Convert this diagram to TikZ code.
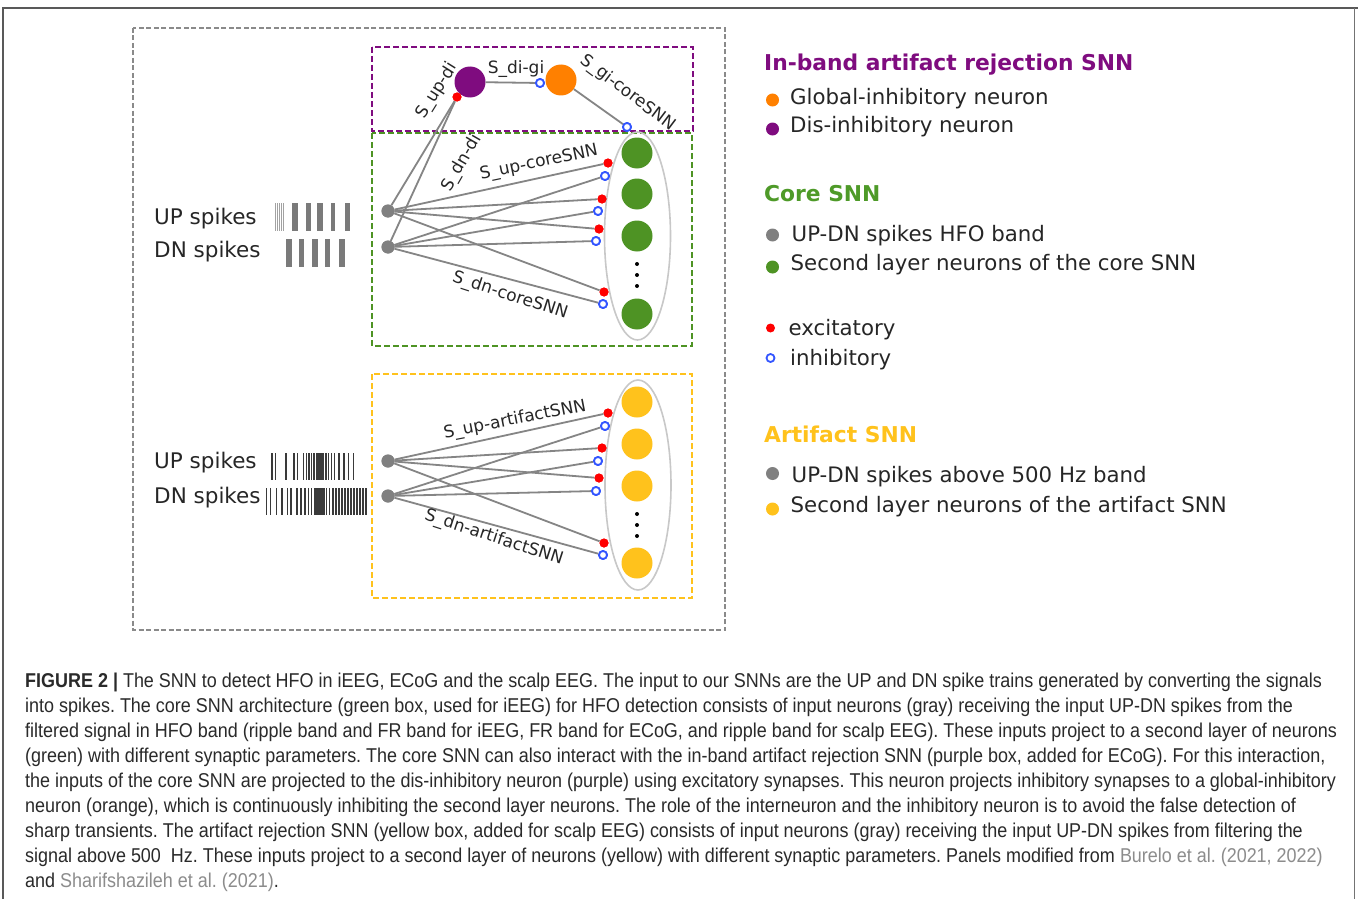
\documentclass[tikz,border=0pt]{standalone}
\usepackage{fontspec}
\setmainfont{DejaVu Sans}
\newfontfamily\capfont[FakeStretch=0.898]{Liberation Sans}
\frenchspacing
\definecolor{purp}{HTML}{7F0C7F}
\definecolor{orng}{HTML}{FF8000}
\definecolor{grn}{HTML}{4E9324}
\definecolor{grntxt}{HTML}{4E9A28}
\definecolor{yel}{HTML}{FFC21C}
\definecolor{neugray}{HTML}{808080}
\definecolor{wire}{HTML}{858585}
\definecolor{inhblue}{HTML}{3355FF}
\definecolor{boxgray}{HTML}{8A8A8A}
\definecolor{ellgray}{HTML}{C8C8C8}
\definecolor{captxt}{HTML}{2A2A2A}
\definecolor{citegray}{HTML}{8C8C8C}
\definecolor{spk}{HTML}{7A7A7A}
\definecolor{spkdark}{HTML}{3A3A3A}
\tikzset{
  neuron/.style={circle, inner sep=0pt, minimum size=31pt},
  inputn/.style={circle, fill=neugray, inner sep=0pt, minimum size=13pt},
  exc/.style={circle, fill=red, inner sep=0pt, minimum size=9pt},
  inh/.style={circle, draw=inhblue, fill=white, line width=1.8pt, inner sep=0pt, minimum size=8pt},
  wirel/.style={draw=wire, line width=1.8pt},
  lbl/.style={font=\fontsize{17}{17}\selectfont, inner sep=0pt, text=black!85},
  dbox/.style={line width=1.8pt, dash pattern=on 6pt off 3pt},
  lgtext/.style={font=\fontsize{21.3}{21.3}\selectfont, anchor=base west, inner sep=0pt, text=black!85},
  lgtitle/.style={font=\fontsize{21.8}{21.8}\selectfont\bfseries, anchor=base west, inner sep=0pt},
  lgdot/.style={circle, inner sep=0pt, minimum size=13pt},
  captext/.style={font=\capfont\fontsize{20}{20}\selectfont, anchor=base west, inner sep=0pt, text=captxt},
  spklabel/.style={font=\fontsize{21.5}{21.5}\selectfont, anchor=base west, inner sep=0pt, text=black!85},
  vdot/.style={circle, fill=black, inner sep=0pt, minimum size=4pt}
}
\begin{document}
\begin{tikzpicture}[x=1pt,y=-1pt]
\useasboundingbox (0,0) rectangle (1358,899);
\fill[white] (0,0) rectangle (1358,899);

% page frame
\draw[black!65, line width=1.2pt] (3,899) -- (3,8) -- (1358,8);
\draw[black!55, line width=1pt] (1354,8) -- (1354,899);

% dashed group boxes
\draw[dbox, boxgray, dash pattern=on 5pt off 2.5pt] (133,28) rectangle (725,630);
\draw[dbox, grn] (372,133) rectangle (692,346);
\draw[dbox, purp] (372,47) rectangle (693,131);
\draw[dbox, yel] (372,374) rectangle (692,598);

% ---------------- core SNN ----------------
\draw[ellgray, line width=1.6pt] (637.5,236) ellipse [x radius=33, y radius=104];
\node[neuron, fill=grn] (g1) at (637,153) {};
\node[neuron, fill=grn] (g2) at (637,194) {};
\node[neuron, fill=grn] (g3) at (637,236) {};
\node[neuron, fill=grn] (g4) at (637,314) {};
\node[vdot] (gd1) at (637,264) {};
\node[vdot] (gd2) at (637,275) {};
\node[vdot] (gd3) at (637,286) {};

\node[inputn] (cu) at (388,211) {};
\node[inputn] (cd) at (388,247) {};

\node[exc] (ce1) at (608,163) {};
\node[inh] (ci1) at (605,176) {};
\node[exc] (ce2) at (602,199) {};
\node[inh] (ci2) at (598,211) {};
\node[exc] (ce3) at (599,229) {};
\node[inh] (ci3) at (596,241) {};
\node[exc] (ce4) at (604,292) {};
\node[inh] (ci4) at (603,304) {};

% ---------------- in-band artifact rejection ----------------
\node[neuron, fill=purp] (di) at (470,82) {};
\node[neuron, fill=orng] (gi) at (561,80) {};
\node[exc] (dix) at (457,97) {};
\node[inh] (gix) at (540,83) {};
\node[inh] (gcx) at (627,127) {};

% connections
\draw[wirel] (cu) -- (dix);
\draw[wirel] (cd) -- (dix);
\draw[wirel] (di) -- (gix);
\draw[wirel] (gi) -- (gcx);
\foreach \k in {1,2,3,4} {
  \draw[wirel] (cu) -- (ce\k);
  \draw[wirel] (cd) -- (ci\k);
}
% markers drawn again above the wires
\node[exc] at (dix) {};
\node[inh] at (gix) {};
\node[inh] at (gcx) {};
\foreach \k in {1,2,3,4} {\node[exc] at (ce\k) {}; \node[inh] at (ci\k) {};}
\node[inputn] at (cu) {};
\node[inputn] at (cd) {};

% synapse labels
\node[lbl] (l1) at (516,69) {S\_di-gi};
\node[lbl, rotate=-37] (l2) at (628,93) {S\_gi-coreSNN};
\node[lbl, rotate=58] (l3) at (437,91) {S\_up-di};
\node[lbl, rotate=60] (l4) at (462,163) {S\_dn-di};
\node[lbl, rotate=12] (l5) at (539,163) {S\_up-coreSNN};
\node[lbl, rotate=-18] (l6) at (510,296) {S\_dn-coreSNN};

% input spike trains (core)
\node[spklabel] (cupt) at (154,224.5) {UP spikes};
\node[spklabel] (cdnt) at (154,257) {DN spikes};
\foreach \x in {275.5,277.5,279.5,281.5,283.5}
  \fill[spk!70] (\x-0.4,203) rectangle (\x+0.4,231);
\foreach \a/\b in {292/298,306/311,317/323,331/335,345/350}
  \fill[spk] (\a,203) rectangle (\b,231);
\foreach \a/\b in {286/292,299/304,312/318,325/330,339/345}
  \fill[spk] (\a,239) rectangle (\b,267);

% ---------------- artifact SNN ----------------
\draw[ellgray, line width=1.6pt] (638,485) ellipse [x radius=33, y radius=105];
\node[neuron, fill=yel] (y1) at (637,402) {};
\node[neuron, fill=yel] (y2) at (637,444) {};
\node[neuron, fill=yel] (y3) at (637,486) {};
\node[neuron, fill=yel] (y4) at (637,563) {};
\node[vdot] (yd1) at (637,514) {};
\node[vdot] (yd2) at (637,525) {};
\node[vdot] (yd3) at (637,536) {};

\node[inputn] (au) at (388,461) {};
\node[inputn] (ad) at (388,496) {};

\node[exc] (ae1) at (608,413) {};
\node[inh] (ai1) at (605,426) {};
\node[exc] (ae2) at (602,448) {};
\node[inh] (ai2) at (598,461) {};
\node[exc] (ae3) at (599,478) {};
\node[inh] (ai3) at (596,491) {};
\node[exc] (ae4) at (604,543) {};
\node[inh] (ai4) at (603,555) {};

\foreach \k in {1,2,3,4} {
  \draw[wirel] (au) -- (ae\k);
  \draw[wirel] (ad) -- (ai\k);
}
\foreach \k in {1,2,3,4} {\node[exc] at (ae\k) {}; \node[inh] at (ai\k) {};}
\node[inputn] at (au) {};
\node[inputn] at (ad) {};

\node[lbl, rotate=11] (l7) at (515,420) {S\_up-artifactSNN};
\node[lbl, rotate=-18] (l8) at (494,538) {S\_dn-artifactSNN};

% input spike trains (artifact)
\node[spklabel] (aupt) at (154,468.5) {UP spikes};
\node[spklabel] (adnt) at (154,503.5) {DN spikes};
\foreach \x/\w in {272/1.6,275.5/1.6,285.5/2,294/1.6,297.5/1.2,303.5/1.2,306.5/1.2,309/1.2,311.5/1.4,314/1.6,316.5/2,319.5/2.6,322.5/2.6,325.5/2,328.5/1.4,331.5/1.2,334.5/1.2,339/1.2,344/1.2,348.5/1.2,353.5/1.4}
  \fill[spkdark] (\x-\w/2,453) rectangle (\x+\w/2,480);
\foreach \x/\w in {266.5/1.6,270.5/1.6,276.5/1.6,281.5/2,287.5/1.4,291/1.4,297/1.6,301/1.4,305/1.4,308.5/1.4,311.5/1.6,314.5/2,317.5/2.6,320.5/3,323.5/2.6,326.5/1.8,329.5/1.4,333/1.2,336/1.2,339/1.2,342/1.2,345/1.2,348/1.2,351/1.2,354/1.2,357/1.2,360/1.2,363/1.2,366/1.2}
  \fill[spkdark] (\x-\w/2,488) rectangle (\x+\w/2,515);

% ---------------- legend ----------------
\node[lgtitle, text=purp] (t1) at (764,70.5) {In-band artifact rejection SNN};
\node[lgdot, fill=orng] (d1) at (772.5,100) {};
\node[lgtext] (x1) at (790,104) {Global-inhibitory neuron};
\node[lgdot, fill=purp] (d2) at (772.5,129) {};
\node[lgtext] (x2) at (790,132.5) {Dis-inhibitory neuron};

\node[lgtitle, text=grntxt] (t2) at (764,201.5) {Core SNN};
\node[lgdot, fill=neugray] (d3) at (772.5,235) {};
\node[lgtext] (x3) at (791.5,241.5) {UP-DN spikes HFO band};
\node[lgdot, fill=grn] (d4) at (772.5,267) {};
\node[lgtext] (x4) at (790.5,270) {Second layer neurons of the core SNN};

\node[exc] (d5) at (770.5,328) {};
\node[lgtext] (x5) at (788.5,335) {excitatory};
\node[inh] (d6) at (770.5,358) {};
\node[lgtext] (x6) at (790,365) {inhibitory};

\node[lgtitle, text=yel] (t3) at (764,442.5) {Artifact SNN};
\node[lgdot, fill=neugray] (d7) at (772.5,473.5) {};
\node[lgtext] (x7) at (791.5,482.5) {UP-DN spikes above 500 Hz band};
\node[lgdot, fill=yel] (d8) at (772.5,509) {};
\node[lgtext] (x8) at (790.5,512.5) {Second layer neurons of the artifact SNN};

% ---------------- caption ----------------
\node[captext] (c1) at (25,687) {\textbf{FIGURE 2} \textbf{|} The SNN to detect HFO in iEEG, ECoG and the scalp EEG. The input to our SNNs are the UP and DN spike trains generated by converting the signals};
\node[captext] (c2) at (25,712) {into spikes. The core SNN architecture (green box, used for iEEG) for HFO detection consists of input neurons (gray) receiving the input UP-DN spikes from the};
\node[captext] (c3) at (25,737) {filtered signal in HFO band (ripple band and FR band for iEEG, FR band for ECoG, and ripple band for scalp EEG). These inputs project to a second layer of neurons};
\node[captext] (c4) at (25,762) {(green) with different synaptic parameters. The core SNN can also interact with the in-band artifact rejection SNN (purple box, added for ECoG). For this interaction,};
\node[captext] (c5) at (25,787) {the inputs of the core SNN are projected to the dis-inhibitory neuron (purple) using excitatory synapses. This neuron projects inhibitory synapses to a global-inhibitory};
\node[captext] (c6) at (25,812) {neuron (orange), which is continuously inhibiting the second layer neurons. The role of the interneuron and the inhibitory neuron is to avoid the false detection of};
\node[captext] (c7) at (25,837) {sharp transients. The artifact rejection SNN (yellow box, added for scalp EEG) consists of input neurons (gray) receiving the input UP-DN spikes from filtering the};
\node[captext] (c8) at (25,862) {signal above 500\enspace Hz. These inputs project to a second layer of neurons (yellow) with different synaptic parameters. Panels modified from \textcolor{citegray}{Burelo et al. (2021, 2022)}};
\node[captext] (c9) at (25,887) {and \textcolor{citegray}{Sharifshazileh et al. (2021)}.};
\end{tikzpicture}
\end{document}
